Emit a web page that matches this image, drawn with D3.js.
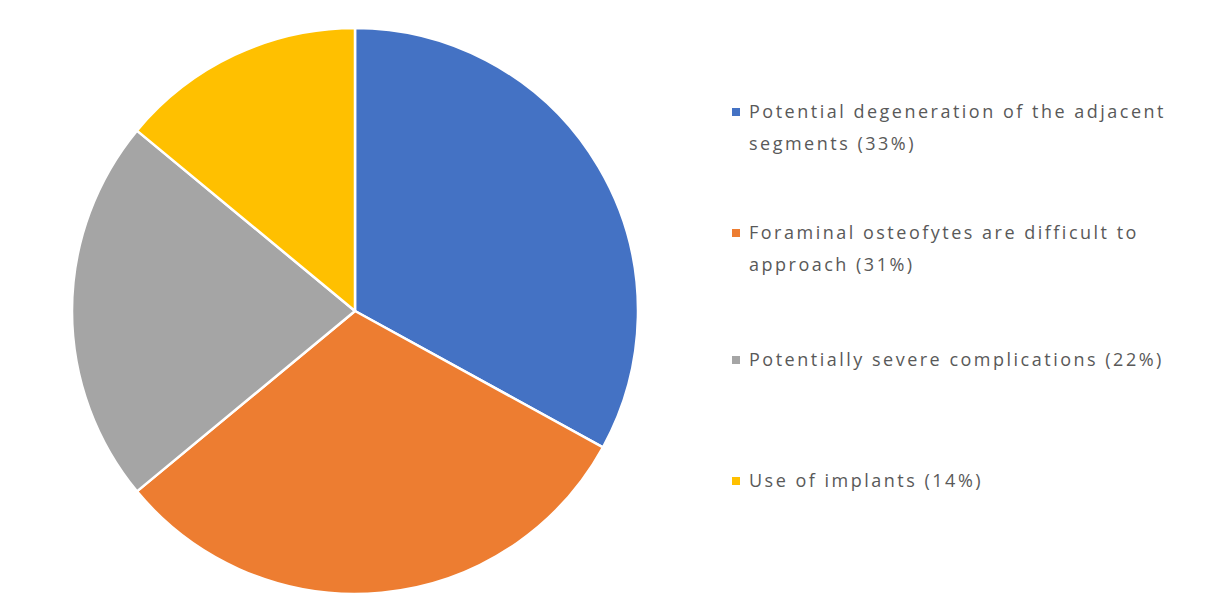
<!DOCTYPE html>
<html>
<head>
<meta charset="utf-8">
<script src="https://cdn.jsdelivr.net/npm/d3@7"></script>
<style>
  html, body { margin: 0; padding: 0; background: #fff; }
  svg { display: block; }
</style>
</head>
<body>
<svg id="chart" width="1213" height="616"></svg>
<script>
// Reasons reported against the procedure, share of responses (%)
const categories = [
  "Potential degeneration of the adjacent segments",
  "Foraminal osteofytes are difficult to approach",
  "Potentially severe complications",
  "Use of implants"
];
const values = [33, 31, 22, 14];
const colors = ["#4472C4", "#ED7D31", "#A5A5A5", "#FFC000"];

const svg = d3.select("#chart");
const cx = 355, cy = 311, radius = 283;

const pie = d3.pie().sort(null).value(d => d.value);
const arc = d3.arc().innerRadius(0).outerRadius(radius);

const data = categories.map((c, i) => ({ name: c, value: values[i], color: colors[i] }));

svg.append("g")
  .attr("transform", `translate(${cx},${cy})`)
  .selectAll("path")
  .data(pie(data))
  .join("path")
  .attr("d", arc)
  .attr("fill", d => d.data.color)
  .attr("stroke", "#fff")
  .attr("stroke-width", 2.5)
  .attr("stroke-linejoin", "round");

// Legend with wrapped labels
const legend = svg.append("g")
  .attr("font-family", "'Open Sans', 'DejaVu Sans', sans-serif")
  .attr("font-size", 18)
  .attr("letter-spacing", 2.5)
  .attr("fill", "#595959");
const legendX = 732, textX = 749, maxWidth = 432, lineH = 31.5;
const itemTop = [112, 233, 360, 481];

data.forEach((d, i) => {
  const label = `${d.name} (${d.value}%)`;
  const g = legend.append("g");
  g.append("rect")
    .attr("x", legendX).attr("y", itemTop[i] - 4)
    .attr("width", 8).attr("height", 8)
    .attr("fill", d.color);
  const t = g.append("text").attr("x", textX).attr("y", itemTop[i]);
  const words = label.split(" ");
  let line = [], lineNo = 0;
  let tspan = t.append("tspan").attr("x", textX).attr("dy", "0.35em");
  words.forEach(w => {
    line.push(w);
    tspan.text(line.join(" "));
    if (tspan.node().getComputedTextLength() > maxWidth && line.length > 1) {
      line.pop();
      tspan.text(line.join(" "));
      line = [w];
      lineNo++;
      tspan = t.append("tspan").attr("x", textX).attr("y", itemTop[i] + lineNo * lineH)
        .attr("dy", "0.35em").text(w);
    }
  });
});
</script>
</body>
</html>
